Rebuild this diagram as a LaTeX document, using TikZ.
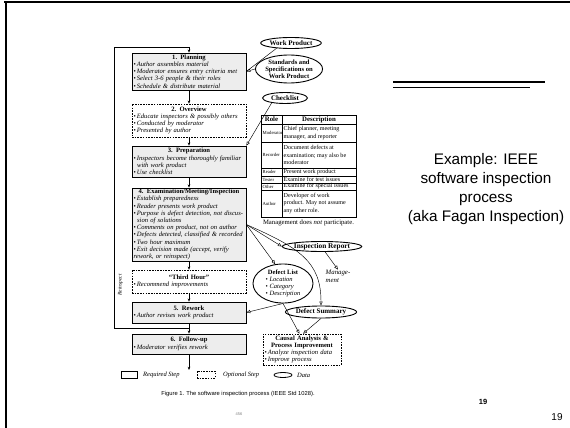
\documentclass[tikz,border=0pt]{standalone}
\usepackage{fontspec}
\setmainfont{Liberation Serif}
\newfontfamily\slidesans{Liberation Sans}
\usetikzlibrary{arrows.meta,shapes.geometric,calc}
\newcommand\itm[1]{\par\hangindent=3.6pt\hangafter=1\noindent\textbullet\,\textit{#1}}
\newcommand\ttl[1]{{\centering\bfseries #1\par}}
\begin{document}
\begin{tikzpicture}[x=1pt,y=-1pt,
  boxfont/.style={font=\fontsize{6.6}{7.2}\selectfont},
  req/.style={draw, fill=gray!14, line width=0.6pt, inner sep=1.2pt, minimum width=114pt, text width=111pt, align=left, boxfont},
  opt/.style={draw, dash pattern=on 1.6pt off 1.1pt, line width=0.5pt, inner sep=1.2pt, minimum width=114pt, text width=111pt, align=left, boxfont},
  data/.style={ellipse, draw, line width=0.9pt, inner sep=0pt, align=center, font=\fontsize{7}{6.9}\selectfont\bfseries},
  oarrow/.style={-{Triangle[open,length=4pt,width=3.2pt]}, line width=0.45pt},
  farrow/.style={-{Stealth[length=3.2pt,width=2.6pt]}, line width=0.6pt},
  cell/.style={inner sep=0pt, align=left, font=\fontsize{6.1}{7.6}\selectfont},
  rolecell/.style={inner sep=0pt, align=left, font=\fontsize{4.7}{5}\selectfont},
  tbl/.style={line width=0.45pt},
  frameline/.style={line width=2pt}
]
\useasboundingbox (0,0) rectangle (570,428);
% slide frame
\draw[frameline] (4,2.5) -- (570,2.5);
\draw[frameline] (5.5,1.5) -- (5.5,428);

% process boxes
\node[req, minimum height=37pt] (plan) at (189,71.5)
  {\ttl{1. Planning}\itm{Author assembles material}\itm{Moderator ensures entry criteria met}\itm{Select 3-6 people \& their roles}\itm{Schedule \& distribute material}};
\node[opt, minimum height=33pt] (ov) at (189,120.5)
  {\ttl{2. Overview}\itm{Educate inspectors \& possibly others}\itm{Conducted by moderator}\itm{Presented by author}};
\node[req, minimum height=31pt] (prep) at (189,161.5)
  {\ttl{3. Preparation}\itm{Inspectors become thoroughly familiar\newline with work product}\itm{Use checklist}};
\node[req, minimum height=73pt] (exam) at (189,224.5)
  {\ttl{4. Examination/Meeting/Inspection}\itm{Establish preparedness}\itm{Reader presents work product}\itm{Purpose is defect detection, not discus-\newline sion of solutions}\itm{Comments on product, not on author}\itm{Defects detected, classified \& recorded}\itm{Two hour maximum}\itm{Exit decision made (accept, verify\newline rework, or reinspect)}};
\node[opt, minimum height=23pt] (third) at (189,281.5)
  {\ttl{“Third Hour”}\itm{Recommend improvements}};
\node[req, minimum height=21pt] (rw) at (189,312.5)
  {\ttl{5. Rework}\itm{Author revises work product}};
\node[req, minimum height=20pt] (fu) at (189,344)
  {\ttl{6. Follow-up}\itm{Moderator verifies rework}};

% flow arrows
\draw[farrow] (plan.south) -- (ov.north);
\draw[farrow] (ov.south) -- (prep.north);
\draw[farrow] (prep.south) -- (exam.north);
\draw[farrow] (exam.south) -- (third.north);
\draw[farrow] (third.south) -- (rw.north);
\draw[farrow] (rw.south) -- (fu.north);
\coordinate (outp) at (189,370);
\draw[farrow] (fu.south) -- (outp);

% reinspect loop
\coordinate (j) at (189,328);
\coordinate (lb) at (114.5,328);
\coordinate (lt) at (114.5,47);
\coordinate (tt) at (189,47);
\draw[line width=0.6pt] (j) -- (lb) -- (lt) -- (tt);
\draw[farrow] (tt) -- (plan.north);
\node[rotate=90, inner sep=0pt, font=\fontsize{5.5}{5.5}\selectfont\itshape] (reinsp) at (120.5,285) {Reinspect};

% data ellipses, top
\node[data, minimum width=58pt, minimum height=11pt] (wp) at (291,43) {Work Product};
\node[data, minimum width=52pt, minimum height=28pt, font=\fontsize{6.6}{6.9}\selectfont\bfseries] (std) at (289,69) {Standards and\\Specifications on\\Work Product};
\node[data, minimum width=45pt, minimum height=11pt] (cl) at (285,98) {Checklist};
\draw[line width=0.45pt] (wp.200) -- (plan.east);
\draw[oarrow] (std.west) -- (plan.east);
\draw[oarrow] (cl.200) -- (prep.north east);

% role table
\draw[tbl, line width=0.6pt] (261,115) rectangle (356,217);
\draw[tbl, line width=0.8pt] (261,124) -- (356,124);
\foreach \yy in {142,168,176,183,190} \draw[tbl] (261,\yy) -- (356,\yy);
\draw[tbl] (282,115) -- (282,217);
\node[inner sep=0pt, font=\fontsize{6.8}{7}\selectfont\bfseries] (hrole) at (271.5,119.5) {Role};
\node[inner sep=0pt, font=\fontsize{6.8}{7}\selectfont\bfseries] (hdesc) at (319,119.5) {Description};
\node[rolecell, anchor=west] (r1) at (262.5,133) {Moderator};
\node[cell, anchor=west] (d1) at (283.5,133) {Chief planner, meeting\\manager, and reporter};
\node[rolecell, anchor=west] (r2) at (262.5,155) {Recorder};
\node[cell, anchor=west] (d2) at (283.5,155) {Document defects at\\examination; may also be\\moderator};
\node[rolecell, anchor=west] (r3) at (262.5,172) {Reader};
\node[cell, anchor=west] (d3) at (283.5,172) {Present work product};
\node[rolecell, anchor=west] (r4) at (262.5,179.5) {Tester};
\node[cell, anchor=west] (d4) at (283.5,179.5) {Examine for test issues};
\node[rolecell, anchor=west] (r5) at (262.5,186.5) {Other};
\node[cell, anchor=west] (d5) at (283.5,186.5) {Examine for special issues};
\node[rolecell, anchor=west] (r6) at (262.5,203.5) {Author};
\node[cell, anchor=west] (d6) at (283.5,203.5) {Developer of work\\product. May not assume\\any other role.};
\node[inner sep=0pt, font=\fontsize{6.7}{6.7}\selectfont] (mgmtnote) at (308.5,223) {Management does \textit{not} participate.};

% output data
\node[data, minimum width=67pt, minimum height=10pt, font=\fontsize{7.3}{7}\selectfont\bfseries] (ir) at (322,246.5) {Inspection Report};
\node[data, minimum width=60pt, minimum height=33pt, font=\fontsize{6.5}{6.9}\selectfont] (dl) at (283,283.5)
  {\begin{tabular}{@{}l@{}}\multicolumn{1}{@{}c@{}}{\bfseries Defect List}\\ \textbullet\ \textit{Location}\\ \textbullet\ \textit{Category}\\ \textbullet\ \textit{Description}\end{tabular}};
\node[data, minimum width=53pt, minimum height=12pt] (ds) at (321,312) {Defect Summary};
\node[inner sep=0pt, align=left, font=\fontsize{6.8}{7.8}\selectfont\itshape] (mgmt) at (338,276) {Manage-\\ment};
\node[opt, minimum width=78pt, text width=75pt, minimum height=31pt] (ca) at (302,349.5)
  {{\centering\bfseries Causal Analysis \&\\Process Improvement\par}\itm{Analyze inspection data}\itm{Improve process}};

\draw[oarrow] (exam.east) -- (ir.west);
\draw[oarrow] (exam.east) -- (dl.112);
\draw[oarrow] (exam.east) .. controls (300,248) and (321,262) .. (ds.north);
\draw[oarrow] (ir.300) -- (mgmt.north);
\draw[oarrow] (dl.south) -- (rw.east);
\coordinate (ca1) at ($(ca.north)+(-2.5,0)$);
\coordinate (ca2) at ($(ca.north)+(1,0)$);
\draw[oarrow] (dl.south) -- (ca1);
\draw[oarrow] (ds.south) -- (ca2);

% legend
\node[draw, line width=0.5pt, minimum width=16pt, minimum height=7pt, inner sep=0pt] (lreq) at (129,374.5) {};
\node[anchor=west, inner sep=0pt, font=\fontsize{6.5}{6.5}\selectfont\itshape] (lreqt) at (143,375) {Required Step};
\node[draw, dash pattern=on 1.6pt off 1.1pt, line width=0.5pt, minimum width=18pt, minimum height=7pt, inner sep=0pt] (lopt) at (206,374.5) {};
\node[anchor=west, inner sep=0pt, font=\fontsize{6.5}{6.5}\selectfont\itshape] (loptt) at (223,375) {Optional Step};
\node[ellipse, draw, line width=0.8pt, minimum width=18pt, minimum height=5pt, inner sep=0pt] (ldat) at (283,375) {};
\node[anchor=west, inner sep=0pt, font=\fontsize{6.5}{6.5}\selectfont\itshape] (ldatt) at (297,375) {Data};

% caption
\node[inner sep=0pt, font=\slidesans\fontsize{5.8}{5.8}\selectfont] (cap) at (238,394) {Figure 1. The software inspection process (IEEE Std 1028).};
\node[inner sep=0pt, text=gray, font=\slidesans\fontsize{4}{4}\selectfont] (pgno) at (239,414.5) {456};

% right side
\draw[line width=1.3pt] (393,82) -- (545,82);
\draw[line width=1.3pt] (393,87.5) -- (530,87.5);
\node[align=center, inner sep=0pt, font=\slidesans\fontsize{15.3}{19}\selectfont] (title) at (486,189)
  {Example: IEEE\\software inspection\\process\\(aka Fagan Inspection)};
\node[inner sep=0pt, font=\slidesans\bfseries\fontsize{7.5}{7.5}\selectfont] (n1) at (483,402) {19};
\node[inner sep=0pt, font=\slidesans\fontsize{10}{10}\selectfont] (n2) at (557,417) {19};
\end{tikzpicture}
\end{document}
